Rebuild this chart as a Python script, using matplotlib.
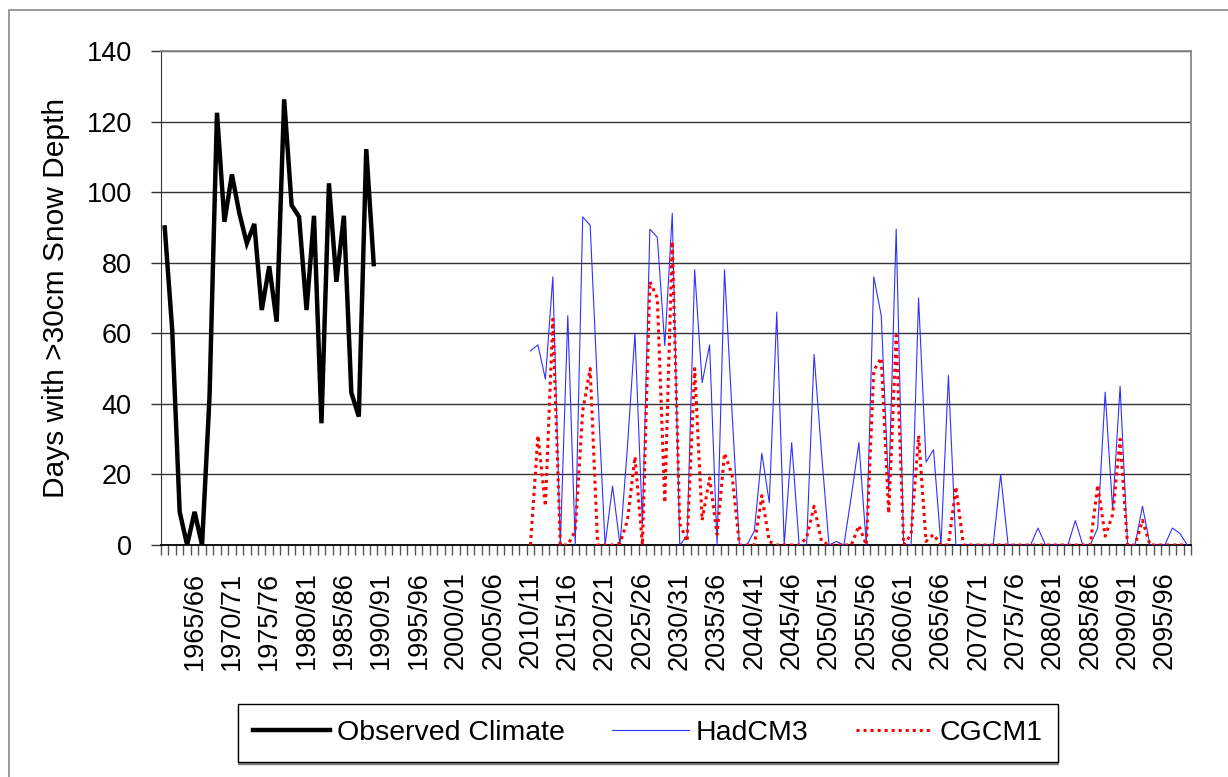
import matplotlib
matplotlib.use("Agg")
import matplotlib.pyplot as plt
from matplotlib.patches import Rectangle
import numpy as np

plt.rcParams['font.family'] = ['Liberation Sans', 'DejaVu Sans']

# winters 1961/62 .. 2098/99
first_year = 1961
n_cat = 138
seasons = [f"{y}/{(y + 1) % 100:02d}" for y in range(first_year, first_year + n_cat)]

# observed, 1961/62 - 1989/90
observed = [90, 61, 9.4, 0, 9.4, 0, 42, 122.5, 91.6, 105, 94, 85.5, 91, 66.6, 79,
            63.3, 126.3, 96.3, 93, 66.6, 93.3, 34.5, 102.5, 74.6, 93.3, 43.2, 36.4,
            112.2, 79.6]

# scenarios start at 2010/11
model_start = 2010
hadcm3 = [55, 56.7, 47, 76, 0, 65, 0, 93, 90.6, 44,
          0, 16.7, 0, 28, 60, 6, 89.5, 87.2, 56.5, 94,
          0, 2.5, 78, 46, 56.7, 0, 78, 38, 0, 0,
          4, 26, 12, 66, 0, 29, 0, 0, 54, 26,
          0, 1, 0, 14, 29, 0, 76, 65, 15, 89.5,
          0, 0, 70, 23.5, 27, 0, 48, 0, 0, 0,
          0, 0, 0, 20, 0, 0, 0, 0, 4.8, 0,
          0, 0, 0, 6.9, 0, 0, 4.8, 43.3, 10, 45,
          0, 0, 11, 0, 0, 0, 4.8, 3.3, 0]
cgcm1 = [0, 31, 11, 64, 0, 0, 4, 38, 50, 0,
         0, 0, 0.5, 7, 25, 0, 74.6, 70, 12, 86,
         6, 1, 50, 7, 19, 3, 26, 20, 0, 0,
         0, 14, 1, 0, 0, 0, 0, 2, 11, 1,
         0, 0, 0, 0, 5.5, 0, 49.5, 53, 9, 59.4,
         0, 3, 31, 1, 3, 0, 0, 16.5, 0, 0,
         0, 0, 0, 0, 0, 0, 0, 0, 0, 0,
         0, 0, 0, 0, 0, 0, 17, 2.5, 8.6, 30,
         0, 0, 7, 0, 0, 0, 0, 0, 0]

W, H = 1228, 777
fig = plt.figure(figsize=(W / 100, H / 100), dpi=100)
ax = fig.add_axes([161 / W, 1 - 545 / H, 1030 / W, 494 / H])

x_obs = np.arange(len(observed))
x_mod = np.arange(len(hadcm3)) + (model_start - first_year)

ax.plot(x_obs, observed, color='black', lw=3.2, solid_joinstyle='miter',
        label='Observed Climate', zorder=4)
ax.plot(x_mod, hadcm3, color='#3030ff', lw=0.8, label='HadCM3', zorder=5)
ax.plot(x_mod, cgcm1, color='red', lw=2.2, linestyle=(0, (1, 1.3)),
        label='CGCM1', zorder=6)

ax.set_xlim(-0.5, n_cat - 0.5)
ax.set_ylim(0, 140)
ax.set_yticks(range(0, 141, 20))
ax.yaxis.grid(True, color='#333333', lw=1.0)
ax.set_axisbelow(True)

lab_idx = [i for i in range(n_cat) if (first_year + i) % 5 == 0]
ax.set_xticks(lab_idx)
ax.set_xticklabels([seasons[i] for i in lab_idx], rotation=90, va='top', ha='center')
ax.set_xticks(np.arange(-0.5, n_cat, 1), minor=True)
ax.tick_params(axis='x', which='major', length=0, pad=19, labelsize=19.5)
ax.tick_params(axis='x', which='minor', length=7, width=1, color='#555555', direction='out')
ax.tick_params(axis='y', length=7, width=1, labelsize=19.5, pad=14, color='#333333')

for s in ['top', 'right']:
    ax.spines[s].set_color('#888888')
    ax.spines[s].set_linewidth(1.3)
ax.spines['left'].set_color('#333333')
ax.spines['bottom'].set_color('black')
ax.spines['bottom'].set_linewidth(1.3)

ax.set_ylabel('Days with >30cm Snow Depth', fontsize=21.5, labelpad=12)

leg = fig.legend(loc='center', bbox_to_anchor=(648 / W, 1 - 733 / H), ncol=3,
                 fontsize=20.5, frameon=True, fancybox=False, edgecolor='black',
                 handlelength=2.7, handletextpad=0.25, columnspacing=1.65,
                 borderpad=0.55, borderaxespad=0,
                 shadow={'color': '#808080', 'alpha': 1, 'ox': 0, 'oy': -1.6})
leg.get_frame().set_linewidth(1.0)

# outer chart border
fig.patches.append(Rectangle((9 / W, -0.05), 1.2, 1 - 10 / H + 0.05,
                             transform=fig.transFigure, fill=False,
                             edgecolor='#888888', lw=1.2))

fig.savefig('out.png', dpi=100)
